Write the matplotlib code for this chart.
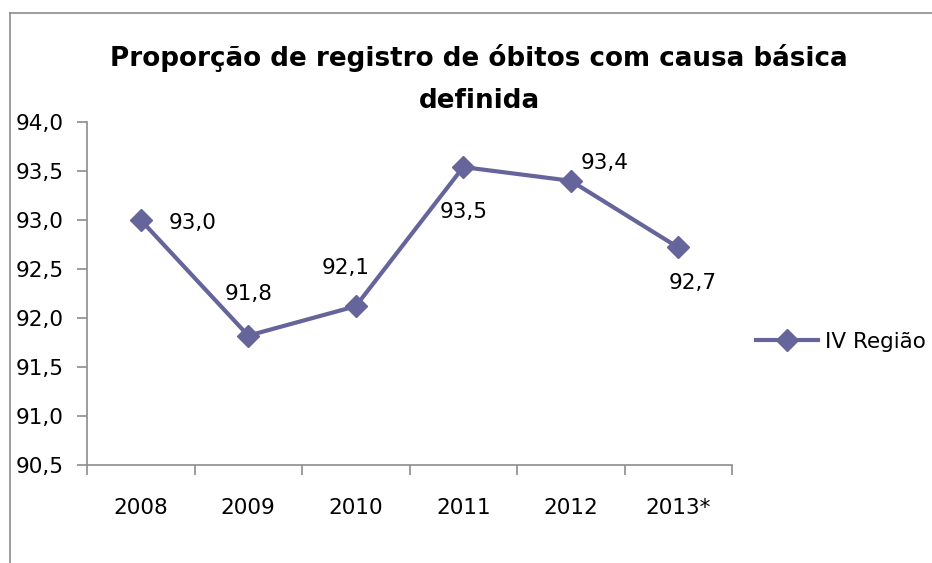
import matplotlib
matplotlib.use("Agg")
import matplotlib.pyplot as plt
from matplotlib.lines import Line2D

years = ["2008", "2009", "2010", "2011", "2012", "2013*"]
values = [93.0, 91.82, 92.12, 93.54, 93.40, 92.72]
series_name = "IV Região"
title = "Proporção de registro de óbitos com causa básica\ndefinida"
yticks = [90.5, 91.0, 91.5, 92.0, 92.5, 93.0, 93.5, 94.0]

# label offsets (pixels) for each data point
label_offsets = [(52, -3), (0, 42), (-10, 38), (0, -45), (34, 18), (14, -36)]

plt.rcParams['font.family'] = ['DejaVu Sans']
color = "#65659C"
axis_gray = "#8C8C8C"
fs = 15.5

fig = plt.figure(figsize=(9.32, 5.63), dpi=100)
ax = fig.add_axes([87/932, 1-465/563, (732-87)/932, (465-122)/563])

x = list(range(len(years)))
ax.plot(x, values, color=color, lw=3, marker="D", ms=11, mfc=color, mec=color,
        label=series_name, solid_joinstyle="miter")

for xi, v, (dx, dy) in zip(x, values, label_offsets):
    ax.annotate(f"{v:.1f}".replace(".", ","), (xi, v), xytext=(dx * 0.72, dy * 0.72),
                textcoords="offset points", ha="center", va="center", fontsize=fs)

ax.set_xlim(-0.5, len(years) - 0.5)
ax.set_ylim(90.5, 94.0)
ax.set_yticks(yticks)
ax.set_yticklabels([f"{t:.1f}".replace(".", ",") for t in yticks], fontsize=fs)
ax.set_xticks(x)
ax.set_xticklabels(years, fontsize=fs)
ax.set_xticks([i - 0.5 for i in range(len(years) + 1)], minor=True)
ax.tick_params(axis="x", which="major", length=0, pad=24)
ax.tick_params(axis="x", which="minor", length=7, color=axis_gray, width=1.2, direction="out")
ax.tick_params(axis="y", length=7, color=axis_gray, width=1.2, pad=10)

for s in ["top", "right"]:
    ax.spines[s].set_visible(False)
for s in ["left", "bottom"]:
    ax.spines[s].set_color(axis_gray)
    ax.spines[s].set_linewidth(1.2)

fig.text(479/932, 1-79/563, title, ha="center", va="center", fontsize=18.8,
         fontweight="bold", linespacing=1.75)

leg = fig.legend(loc="center left", bbox_to_anchor=(745/932, 1-342/563), frameon=False,
                 fontsize=fs, handlelength=2.9, handletextpad=0.3, borderpad=0)

# chart area frame
fig.add_artist(Line2D([9.5/932, 9.5/932], [0, 1-13/563], color=axis_gray, lw=1.2,
                      transform=fig.transFigure))
fig.add_artist(Line2D([9.5/932, 1], [1-13/563, 1-13/563], color=axis_gray, lw=1.2,
                      transform=fig.transFigure))

fig.savefig("out.png", dpi=100)
